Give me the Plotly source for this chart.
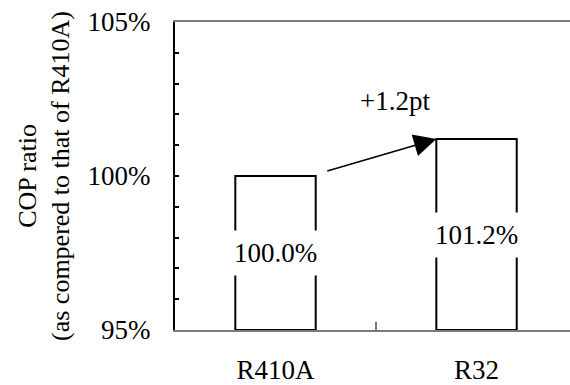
import plotly.graph_objects as go

categories = ["R410A", "R32"]
cop_ratio = [100.0, 101.2]
axis_base = 95
y_ticks = [95, 100, 105]
y_tick_text = ["95%", "100%", "105%"]
diff_label = "+1.2pt"

FONT = "Liberation Serif"
FS = 27

fig = go.Figure()
fig.add_trace(go.Bar(
    x=categories,
    y=[v - axis_base for v in cop_ratio],
    base=axis_base,
    width=0.4,
    marker=dict(color="white", line=dict(color="black", width=2)),
    showlegend=False,
))

for c, v in zip(categories, cop_ratio):
    fig.add_annotation(
        x=c, y=(axis_base + v) / 2, text=f"{v:.1f}%",
        showarrow=False, bgcolor="white", borderpad=7,
        font=dict(family=FONT, size=FS, color="black"),
    )

fig.add_annotation(
    x=0.8, y=cop_ratio[1], ax=0.25, ay=cop_ratio[0] + 0.15,
    xref="x", yref="y", axref="x", ayref="y",
    text="", showarrow=True, arrowhead=2, arrowsize=2.8, arrowwidth=1.6,
    arrowcolor="black", standoff=0,
)
fig.add_annotation(
    x=0.594, y=102.45, text=diff_label, showarrow=False,
    font=dict(family=FONT, size=FS, color="black"),
)

fig.update_layout(
    width=570, height=385,
    margin=dict(l=175, r=0, t=22, b=53),
    paper_bgcolor="white", plot_bgcolor="white",
    font=dict(family=FONT, size=FS, color="black"),
)
fig.update_xaxes(
    type="category", range=[-0.5, 1.465],
    showline=True, linecolor="#7a7a7a", linewidth=1.8, mirror=True,
    ticks="inside", tickson="boundaries", ticklen=8, tickcolor="#7a7a7a", tickwidth=1.5,
    showgrid=False, zeroline=False,
    tickfont=dict(family=FONT, size=FS, color="black"),
    ticklabelstandoff=15,
)
fig.update_yaxes(
    range=[95, 105], tickmode="array", tickvals=y_ticks, ticktext=y_tick_text,
    showline=True, linecolor="black", linewidth=2, mirror=False,
    ticks="inside", ticklen=4, tickcolor="black", tickwidth=1.5,
    minor=dict(dtick=1, ticks="inside", ticklen=4, tickcolor="black", tickwidth=1.5, showgrid=False),
    showgrid=False, zeroline=False,
    tickfont=dict(family=FONT, size=FS, color="black"),
    ticklabelstandoff=17,
    title=dict(text="COP ratio<br>(as compered to that of R410A)",
               font=dict(family=FONT, size=26, color="black"), standoff=10),
)

fig.write_html("out.html")
